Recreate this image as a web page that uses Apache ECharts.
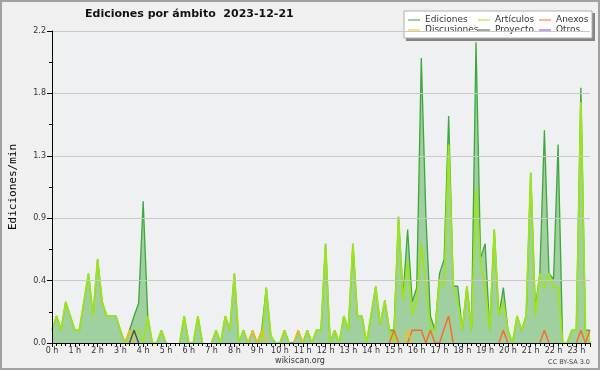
<!DOCTYPE html>
<html>
<head>
<meta charset="utf-8">
<script src="https://cdn.jsdelivr.net/npm/echarts@6/dist/echarts.min.js"></script>
<style>html,body{margin:0;padding:0;background:#f0f0f0;}#c{width:600px;height:370px;}</style>
</head>
<body>
<div id="c"></div>
<script>
// 12-minute bins, bin index 0..118 (0 h .. 23.6 h)
const binHours = [];
for (let i = 0; i < 119; i++) binHours.push(+(i * 0.2).toFixed(1));

const ediciones = [
  0.09,0.19,0.09,0.29,0.19,0.09,0.09,0.29,0.49,0.19,
  0.59,0.29,0.19,0.19,0.19,0.09,0,0.09,0.19,0.28,
  1.00,0.19,0,0,0.09,0,0,0,0,0.19,
  0,0,0.19,0,0,0,0.09,0,0.19,0.09,
  0.49,0,0.09,0,0.09,0,0.09,0.39,0.05,0,
  0,0.09,0,0,0.09,0,0.09,0,0.09,0.09,
  0.70,0,0.09,0,0.19,0.09,0.70,0.19,0.19,0,
  0.20,0.40,0.13,0.30,0.09,0.09,0.89,0.33,0.80,0.29,
  0.39,2.01,0.90,0.19,0.09,0.49,0.59,1.60,0.40,0.40,
  0.09,0.40,0.09,2.12,0.60,0.70,0.09,0.80,0.19,0.39,
  0.09,0,0.19,0.09,0.19,1.20,0.25,0.49,1.50,0.49,
  0.45,1.40,0,0,0.09,0.09,1.80,0.09,0.09
];
const articulos = [
  0.09,0.19,0.09,0.29,0.19,0.09,0.09,0.29,0.49,0.19,
  0.59,0.29,0.19,0.19,0.19,0.09,0,0,0.09,0.09,
  0,0.19,0,0,0.09,0,0,0,0,0.19,
  0,0,0.19,0,0,0,0.09,0,0.19,0.09,
  0.49,0,0.09,0,0,0,0,0.39,0.05,0,
  0,0.09,0,0,0,0,0.09,0,0.09,0.09,
  0.70,0,0.09,0,0.19,0.09,0.70,0.19,0.19,0,
  0.20,0.40,0.13,0.30,0.09,0,0.89,0.30,0.58,0.20,
  0.30,0.70,0.40,0.10,0.09,0.45,0.40,1.40,0.40,0.29,
  0.09,0.40,0.09,1.09,0.56,0.40,0.09,0.80,0.19,0.29,
  0.09,0,0.19,0.09,0.19,1.20,0.19,0.49,0.39,0.49,
  0.39,0.39,0,0,0.09,0.09,1.70,0.09,0
];
const anexos = [
  0,0,0,0,0,0,0,0,0,0,
  0,0,0,0,0,0,0,0,0,0,
  0,0,0,0,0,0,0,0,0,0,
  0,0,0,0,0,0,0,0,0,0,
  0,0,0,0,0,0,0,0,0,0,
  0,0,0,0,0,0,0,0,0,0,
  0,0,0,0,0,0,0,0,0,0,
  0,0,0,0,0,0.09,0,0,0,0.09,
  0.09,0.09,0,0.09,0,0,0.10,0.19,0,0,
  0,0,0,0,0,0,0,0,0,0.09,
  0,0,0,0,0,0,0,0,0.09,0,
  0,0,0,0,0,0,0.09,0,0.09
];
const discusiones = [
  0,0,0,0,0,0,0,0,0,0,
  0,0,0,0,0,0,0,0.09,0,0,
  0,0,0,0,0,0,0,0,0,0,
  0,0,0,0,0,0,0,0,0,0,
  0,0,0,0,0.09,0,0.09,0,0,0,
  0,0,0,0,0.09,0,0,0,0,0,
  0,0,0,0,0,0,0,0,0,0,
  0,0,0,0,0,0,0,0,0.09,0,
  0,0,0,0,0,0,0,0,0,0,
  0,0,0,0,0,0,0,0,0,0,
  0,0,0,0,0,0,0,0,0,0,
  0,0,0,0,0,0,0,0,0
];
const proyecto = [
  0,0,0,0,0,0,0,0,0,0,
  0,0,0,0,0,0,0,0,0.09,0,
  0,0,0,0,0,0,0,0,0,0,
  0,0,0,0,0,0,0,0,0,0,
  0,0,0,0,0,0,0,0,0,0,
  0,0,0,0,0,0,0,0,0,0,
  0,0,0,0,0,0,0,0,0,0,
  0,0,0,0,0,0,0,0,0,0,
  0,0,0,0,0,0,0,0,0,0,
  0,0,0,0,0,0,0,0,0,0,
  0,0,0,0,0,0,0,0,0,0,
  0,0,0,0,0,0,0,0,0
];
const otros = [
  0,0,0,0,0,0,0,0,0,0,
  0,0,0,0,0,0,0,0,0,0,
  0,0,0,0,0,0,0,0,0,0,
  0,0,0,0,0,0,0,0,0,0,
  0,0,0,0,0,0,0,0,0,0,
  0,0,0,0,0,0,0,0,0,0,
  0,0,0,0,0,0,0,0,0,0,
  0,0,0,0,0,0,0,0,0,0,
  0,0,0,0,0,0,0,0,0,0,
  0,0,0,0,0,0,0,0,0,0,
  0,0,0,0,0,0,0,0,0,0,
  0,0,0,0,0,0,0,0,0
];
const seriesNames = ['Ediciones','Artículos','Anexos','Discusiones','Proyecto','Otros'];
const seriesColors = ['#3aa83a','#9ee41c','#ff6a1a','#f3c012','#505050','#9b30ff'];
const yTicks = [0, 0.44, 0.88, 1.32, 1.76, 2.2];

// zero runs lying on the axis are not stroked (the axis line shows there)
const pairs = arr => arr.map((v, i) => {
  const near = v !== 0 || (i > 0 && arr[i - 1] !== 0) || (i < arr.length - 1 && arr[i + 1] !== 0);
  return [binHours[i], near ? v : null];
});
const allData = [ediciones, articulos, anexos, discusiones, proyecto, otros];

const series = allData.map((arr, k) => {
  const s = {
    name: seriesNames[k], type: 'line', data: pairs(arr),
    showSymbol: false, symbol: 'none', animation: false, connectNulls: false,
    color: seriesColors[k],
    lineStyle: { color: seriesColors[k], width: k === 0 ? 1.3 : (k === 1 ? 1.8 : 1.4) },
    z: 2 + k
  };
  if (k === 0) s.areaStyle = { color: '#a0cfa0', opacity: 1 };
  return s;
});

const legendBase = {
  orient: 'horizontal', itemWidth: 12, itemHeight: 1, itemGap: 0, padding: 0,
  icon: 'rect', selectedMode: false,
  textStyle: { fontFamily: 'DejaVu Sans', fontSize: 9, color: '#333', lineHeight: 10 },
  z: 10
};
const legendPos = [[408, 15], [478, 15], [539, 15], [408, 25], [478, 25], [539, 25]];
const legendOrder = ['Ediciones', 'Artículos', 'Anexos', 'Discusiones', 'Proyecto', 'Otros'];

const chart = echarts.init(document.getElementById('c'), null, { renderer: 'canvas' });
chart.setOption({
  backgroundColor: '#f0f0f0',
  animation: false,
  title: {
    text: 'Ediciones por ámbito  2023-12-21', left: 85, top: 9, padding: 0,
    textStyle: { fontFamily: 'DejaVu Sans', fontWeight: 'bold', fontSize: 11, color: '#111' }
  },
  legend: legendOrder.map((n, j) => Object.assign({}, legendBase, { left: legendPos[j][0], top: legendPos[j][1], data: [n] })),
  grid: { left: 46, right: 10, top: 31, bottom: 27, show: true, backgroundColor: '#eef0f2', borderWidth: 0 },
  xAxis: {
    type: 'value', min: 0, max: 23.6, interval: 1, z: 20,
    axisLine: { show: true, lineStyle: { color: '#000', width: 1 } },
    axisTick: { show: true, length: 4, lineStyle: { color: '#000' } },
    minorTick: { show: true, splitNumber: 5, length: 3, lineStyle: { color: '#000' } },
    splitLine: { show: false },
    axisLabel: {
      margin: 4, fontSize: 8, fontFamily: 'DejaVu Sans', color: '#333', showMaxLabel: false,
      formatter: v => Number.isInteger(v) ? v + ' h' : ''
    }
  },
  yAxis: {
    type: 'value', min: yTicks[0], max: yTicks[yTicks.length - 1], interval: yTicks[1], z: 20,
    name: 'Ediciones/min', nameLocation: 'middle', nameGap: 33,
    nameTextStyle: { fontFamily: 'DejaVu Sans Mono', fontSize: 11, color: '#000' },
    axisLine: { show: true, lineStyle: { color: '#000', width: 1 } },
    axisTick: { show: true, length: 5, lineStyle: { color: '#000' } },
    minorTick: { show: true, splitNumber: 2, length: 3, lineStyle: { color: '#000' } },
    splitLine: { show: true, lineStyle: { color: '#c8c8c8', width: 1 } },
    axisLabel: { margin: 6, fontSize: 8, fontFamily: 'DejaVu Sans', color: '#333', formatter: v => v.toFixed(1) }
  },
  graphic: [
    { type: 'rect', z: 8, shape: { x: 406, y: 13, width: 189, height: 28 }, style: { fill: '#858585' } },
    { type: 'rect', z: 9, shape: { x: 404, y: 11, width: 188, height: 27 }, style: { fill: '#ffffff', stroke: '#b0b0b0', lineWidth: 1 } },
    { type: 'text', z: 9, left: 'center', top: 357, style: { text: 'wikiscan.org', font: '8px "DejaVu Sans"', fill: '#333' } },
    { type: 'text', z: 9, right: 10, top: 359, style: { text: 'CC BY-SA 3.0', font: '6.5px "DejaVu Sans"', fill: '#444' } },
    { type: 'rect', z: 30, shape: { x: 1, y: 1, width: 598, height: 368 }, style: { fill: 'none', stroke: '#a0a0a0', lineWidth: 2 } }
  ],
  series: series
});
</script>
</body>
</html>
